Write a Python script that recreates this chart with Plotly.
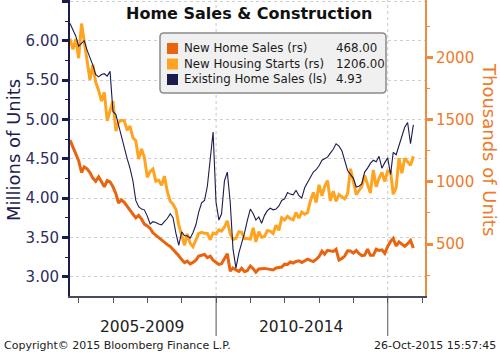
import plotly.graph_objects as go
import pandas as pd

# ---- data (monthly, Sep-2005 .. Sep-2015, month-end) ----
dates = (pd.date_range("2005-09-01", periods=121, freq="MS") + pd.offsets.MonthEnd(0)).strftime("%Y-%m-%d").tolist()

new_home_sales = [  # thousands (rs)
    1336, 1275, 1220, 1170,
    1075, 1120, 1105, 1075, 1030, 1005, 1040, 1000, 960, 1010, 1000, 960,
    905, 830, 855, 835, 800, 770, 740, 710, 730, 700, 660, 645,
    625, 590, 570, 550, 535, 515, 495, 480, 455, 435, 405, 375,
    350, 362, 340, 352, 370, 403, 410, 416, 391, 403, 370, 352,
    336, 341, 389, 422, 282, 308, 292, 280, 305, 277, 287, 323,
    301, 274, 300, 305, 304, 300, 297, 292, 307, 311, 315, 338,
    336, 355, 347, 360, 365, 351, 366, 378, 368, 359, 376, 398,
    442, 418, 449, 446, 440, 457, 371, 384, 403, 445, 444, 427,
    449, 424, 407, 410, 458, 409, 409, 458, 449, 453, 425, 481,
    521, 545, 484, 517, 497, 481, 503, 529, 468,
]
housing_starts = [  # thousands (rs)
    2151, 2065, 2147, 1994,
    2273, 2119, 1969, 1821, 1942, 1802, 1737, 1650, 1720, 1491, 1570, 1649,
    1409, 1480, 1495, 1490, 1415, 1448, 1354, 1330, 1183, 1264, 1197, 1037,
    1084, 1103, 1005, 1013, 973, 1046, 923, 844, 820, 777, 652, 560,
    490, 582, 505, 478, 540, 585, 594, 586, 585, 534, 588, 581,
    614, 604, 636, 687, 583, 536, 546, 599, 594, 543, 545, 539,
    630, 517, 600, 554, 561, 608, 604, 585, 650, 610, 711, 694,
    723, 704, 695, 753, 708, 757, 740, 754, 847, 915, 833, 976,
    888, 962, 1010, 847, 925, 844, 898, 883, 863, 905, 1105, 1003,
    897, 928, 963, 1052, 985, 909, 1095, 961, 1029, 1076, 1003, 1088,
    1080, 900, 954, 1190, 1069, 1190, 1161, 1132, 1206,
]
existing_sales = [  # millions (ls)
    6.22, 6.14, 6.06, 5.93,
    5.97, 6.00, 5.88, 5.79, 5.69, 5.57, 5.54, 5.57, 5.58, 5.55, 5.61, 5.10,
    5.06, 4.93, 4.78, 4.62, 4.50, 4.38, 4.22, 3.97, 3.89, 3.86, 3.85, 3.77,
    3.67, 3.70, 3.69, 3.67, 3.66, 3.70, 3.74, 3.80, 3.75, 3.55, 3.40, 3.57,
    3.52, 3.52, 3.49, 3.56, 3.66, 3.82, 3.94, 3.97, 4.15, 4.50, 4.84, 3.95,
    3.72, 3.80, 4.22, 4.33, 3.95, 3.35, 3.11, 3.30, 3.42, 3.56, 3.72, 3.86,
    3.80, 3.72, 3.76, 3.68, 3.78, 3.84, 3.87, 3.85, 3.86, 3.90, 3.97, 3.99,
    4.07, 4.05, 4.04, 4.10, 4.03, 4.00, 4.13, 4.20, 4.26, 4.33, 4.36, 4.41,
    4.48, 4.50, 4.52, 4.57, 4.62, 4.69, 4.66, 4.60, 4.48, 4.35, 4.30, 4.25,
    4.14, 4.15, 4.18, 4.33, 4.38, 4.44, 4.48, 4.46, 4.53, 4.38, 4.45, 4.51,
    4.30, 4.58, 4.55, 4.66, 4.76, 4.90, 4.96, 4.69, 4.93,
]

series_names = ["New Home Sales (rs)", "New Housing Starts (rs)", "Existing Home Sales (ls)"]
left_ticks = [3.0, 3.5, 4.0, 4.5, 5.0, 5.5, 6.0, 6.5]
right_ticks = [500, 1000, 1500, 2000]
year_ticks = [f"{y}-01-01" for y in range(2006, 2017)]
period_labels = ["2005-2009", "2010-2014"]

C_NHS = "#e8640f"
C_HS = "#ffa420"
C_EHS = "#1c1c4c"
C_ORANGE_AX = "#f08a3c"
C_ORANGE_TXT = "#ee7a2a"
FONT = "DejaVu Sans"

# plot-area pixel geometry helpers
L, R, T, B = 70, 425, 0, 296
def px(x):
    return (x - L) / (R - L)
def py(y):
    return (B - y) / (B - T)

fig = go.Figure()
fig.add_trace(go.Scatter(x=dates, y=new_home_sales, mode="lines", name=series_names[0],
                         line=dict(color=C_NHS, width=3), yaxis="y", showlegend=False))
fig.add_trace(go.Scatter(x=dates, y=housing_starts, mode="lines", name=series_names[1],
                         line=dict(color=C_HS, width=3), yaxis="y", showlegend=False))
fig.add_trace(go.Scatter(x=dates, y=existing_sales, mode="lines", name=series_names[2],
                         line=dict(color=C_EHS, width=1.1), yaxis="y2", showlegend=False))

shapes = []
annotations = []

# vertical dotted grid + long separator ticks
for d in ["2010-01-01", "2015-01-01"]:
    shapes.append(dict(type="line", xref="x", yref="paper", x0=d, x1=d, y0=0, y1=1,
                       line=dict(color="#c8c8c8", width=1, dash="dot"), layer="below"))
    shapes.append(dict(type="line", xref="x", yref="paper", x0=d, x1=d, y0=0, y1=py(336),
                       line=dict(color="#555555", width=1)))

# legend box (rounded)
x0, x1, y0, y1, r = 160, 386, 33, 93, 4
pts = [("M", x0 + r, y0), ("L", x1 - r, y0), ("Q", x1, y0, x1, y0 + r), ("L", x1, y1 - r),
       ("Q", x1, y1, x1 - r, y1), ("L", x0 + r, y1), ("Q", x0, y1, x0, y1 - r), ("L", x0, y0 + r),
       ("Q", x0, y0, x0 + r, y0)]
path = ""
for p in pts:
    if p[0] == "Q":
        path += f"Q{px(p[1]):.5f},{py(p[2]):.5f} {px(p[3]):.5f},{py(p[4]):.5f} "
    else:
        path += f"{p[0]}{px(p[1]):.5f},{py(p[2]):.5f} "
path += "Z"
shapes.append(dict(type="path", xref="paper", yref="paper", path=path,
                   fillcolor="#f0f0f0", line=dict(color="#8a8a8a", width=1.5)))

leg_vals = [f"{new_home_sales[-1]:.2f}", f"{housing_starts[-1]:.2f}", f"{existing_sales[-1]:.2f}"]
leg_cols = [C_NHS, C_HS, C_EHS]
row_y = [48.5, 64, 79.5]
for name, val, col, yc in zip(series_names, leg_vals, leg_cols, row_y):
    shapes.append(dict(type="rect", xref="paper", yref="paper",
                       x0=px(167), x1=px(178), y0=py(yc - 5.5), y1=py(yc + 5.5),
                       fillcolor=col, line=dict(width=0)))
    annotations.append(dict(text=name, xref="paper", yref="paper", x=px(182), y=py(yc),
                            xanchor="left", yanchor="middle", showarrow=False,
                            font=dict(family=FONT, size=11.8, color="#1a1a1a")))
    annotations.append(dict(text=val, xref="paper", yref="paper", x=px(334), y=py(yc),
                            xanchor="left", yanchor="middle", showarrow=False,
                            font=dict(family=FONT, size=11.8, color="#1a1a1a")))

# title
annotations.append(dict(text="<b>Home Sales &amp; Construction</b>", xref="paper", yref="paper",
                        x=px(248.5), y=py(13), xanchor="center", yanchor="middle", showarrow=False,
                        font=dict(family=FONT, size=16, color="#111111")))
# axis titles
annotations.append(dict(text="Millions of Units", xref="paper", yref="paper", x=px(13), y=py(150),
                        xanchor="center", yanchor="middle", textangle=-90, showarrow=False,
                        font=dict(family=FONT, size=18, color="#1c1c50")))
annotations.append(dict(text="Thousands of Units", xref="paper", yref="paper", x=px(490), y=py(149),
                        xanchor="center", yanchor="middle", textangle=90, showarrow=False,
                        font=dict(family=FONT, size=18, color=C_ORANGE_TXT)))
# period labels
for lab, cx in zip(period_labels, [142.9, 301.5]):
    annotations.append(dict(text=lab, xref="paper", yref="paper", x=px(cx), y=py(326.5),
                            xanchor="center", yanchor="middle", showarrow=False,
                            font=dict(family=FONT, size=15.5, color="#222222")))
# footer
annotations.append(dict(text="Copyright© 2015 Bloomberg Finance L.P.", xref="paper", yref="paper",
                        x=px(2), y=py(345), xanchor="left", yanchor="middle", showarrow=False,
                        font=dict(family=FONT, size=11, color="#222222")))
annotations.append(dict(text="26-Oct-2015 15:57:45", xref="paper", yref="paper",
                        x=px(498), y=py(345), xanchor="right", yanchor="middle", showarrow=False,
                        font=dict(family=FONT, size=11, color="#222222")))

fig.update_layout(
    width=500, height=354, autosize=False,
    margin=dict(l=L, r=500 - R, t=T, b=354 - B, pad=0),
    paper_bgcolor="white", plot_bgcolor="white",
    font=dict(family=FONT),
    xaxis=dict(type="date", range=["2005-09-30", "2016-02-01"], showgrid=False, zeroline=False,
               showline=True, linecolor="#4a4a58", linewidth=1.5,
               tickmode="array", tickvals=year_ticks, showticklabels=False,
               ticks="outside", ticklen=5, tickcolor="#555555", tickwidth=1),
    yaxis=dict(side="right", range=[82, 2462], showgrid=False, zeroline=False,
               showline=True, linecolor=C_ORANGE_AX, linewidth=2,
               tickmode="array", tickvals=right_ticks, ticktext=[str(v) for v in right_ticks],
               ticks="outside", ticklen=6, tickwidth=2.5, tickcolor=C_ORANGE_AX,
               tickfont=dict(family=FONT, size=15, color=C_ORANGE_TXT),
               minor=dict(dtick=250, tick0=0, ticks="outside", ticklen=3, tickcolor=C_ORANGE_AX, tickwidth=1)),
    yaxis2=dict(side="left", overlaying="y", anchor="x", range=[2.755, 6.517],
                showgrid=True, gridcolor="#cfcfcf", griddash="dot", gridwidth=1, zeroline=False,
                showline=True, linecolor=C_EHS, linewidth=2,
                tickmode="array", tickvals=left_ticks,
                ticktext=[f"{v:.2f}" for v in left_ticks[:-1]] + [""],
                ticks="outside", ticklen=6, tickwidth=2.5, tickcolor=C_EHS,
                tickfont=dict(family=FONT, size=15, color="#2e2e5e"),
                minor=dict(dtick=0.25, tick0=0, ticks="outside", ticklen=3, tickcolor=C_EHS, tickwidth=1)),
    shapes=shapes,
    annotations=annotations,
)

fig.write_html("out.html")
